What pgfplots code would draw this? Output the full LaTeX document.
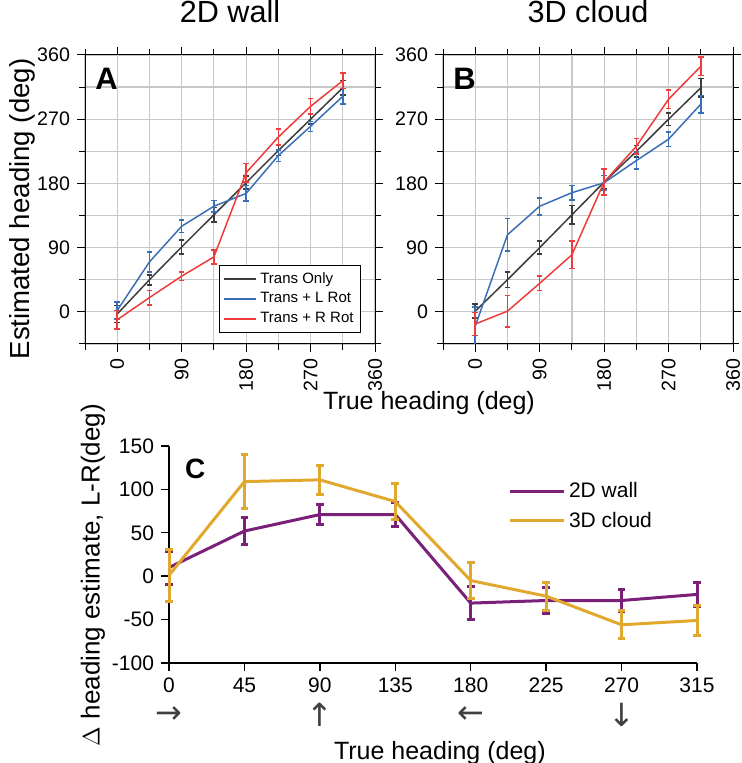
\documentclass[border=0pt]{standalone}
\usepackage{fontspec}
\setmainfont{Liberation Sans}
\newfontfamily\arrfont{DejaVu Sans}
\usepackage{pgfplots}
\pgfplotsset{compat=1.18}

\definecolor{cblk}{RGB}{60,60,60}
\definecolor{cblu}{RGB}{58,111,183}
\definecolor{cred}{RGB}{238,59,59}
\definecolor{cpur}{RGB}{122,32,121}
\definecolor{cgld}{RGB}{224,169,46}

\pgfplotsset{
  hp/.style={
    scale only axis, width=145pt, height=144.5pt,
    xmin=-45, xmax=360, ymin=-45, ymax=360,
    xtick={0,90,180,270,360}, ytick={0,90,180,270,360},
    minor xtick={-45,45,135,225,315}, minor ytick={-45,45,135,225,315},
    grid=both,
    major grid style={draw=black!22, line width=0.6pt},
    minor grid style={draw=black!22, line width=0.6pt},
    tick align=outside, major tick length=4pt, minor tick length=3pt,
    every tick/.style={black, line width=0.5pt},
    axis line style={line width=0.5pt},
    tick label style={font=\fontsize{9.8}{11}\selectfont},
    xticklabel style={rotate=90, anchor=east},
    /pgf/number format/assume math mode=true,
    title style={font=\fontsize{15.3}{17}\selectfont, at={(axis description cs:0.5,1.107)}, anchor=center, yshift=0pt},
  },
  ser/.style={color=#1, line width=0.75pt, mark=none,
    error bars/y dir=both, error bars/y explicit,
    error bars/error bar style={color=#1, line width=0.8pt},
    error bars/error mark options={color=#1, rotate=90, mark size=1.4pt, line width=0.8pt}},
  serc/.style={color=#1, line width=1.5pt, mark=none,
    error bars/y dir=both, error bars/y explicit,
    error bars/error bar style={color=#1, line width=1.5pt},
    error bars/error mark options={color=#1, rotate=90, mark size=1.9pt, line width=1.5pt}},
}

\begin{document}
\begin{tikzpicture}
\useasboundingbox (0,0) rectangle (370.5pt,381.5pt);

% ---------------- Panel A ----------------
\begin{axis}[hp, at={(42.5pt,209.5pt)}, anchor=south west,
  title={2D wall},
  ylabel={Estimated heading (deg)},
  ylabel style={font=\fontsize{13.8}{15}\selectfont, at={(axis description cs:-0.215,0.467)}, anchor=center},
  legend style={at={(0.952,0.038)}, anchor=south east, font=\fontsize{7.5}{8.5}\selectfont,
    draw=black, line width=0.5pt, inner sep=1.5pt, row sep=-0.8pt, fill=white},
  legend cell align=left,
  legend image code/.code={\draw[#1] (0pt,0pt) -- (16pt,0pt);},
]
\addplot[forget plot, ser=cblk] coordinates {
 (0,-3) +- (0,12) (45,45) +- (0,7) (90,91) +- (0,10) (135,136) +- (0,10)
 (180,181) +- (0,9) (225,226) +- (0,7) (270,270) +- (0,7) (315,314) +- (0,10)};
\addplot[forget plot, ser=cblu] coordinates {
 (0,2) +- (0,12) (45,70) +- (0,14) (90,120) +- (0,9) (135,148) +- (0,8)
 (180,166) +- (0,11) (225,219) +- (0,8) (270,260) +- (0,7) (315,302) +- (0,11)};
\addplot[forget plot, ser=cred] coordinates {
 (0,-11) +- (0,13) (45,20) +- (0,10) (90,50) +- (0,6) (135,77) +- (0,10)
 (180,195) +- (0,13) (225,245) +- (0,11) (270,288) +- (0,11) (315,324) +- (0,11)};
\addlegendimage{color=cblk, line width=0.75pt}
\addlegendentry{Trans Only}
\addlegendimage{color=cblu, line width=0.75pt}
\addlegendentry{Trans + L Rot}
\addlegendimage{color=cred, line width=0.75pt}
\addlegendentry{Trans + R Rot}
\node[anchor=north west, inner sep=0pt, font=\bfseries\fontsize{15.5}{16}\selectfont] at (rel axis cs:0.034,0.955) {A};
\end{axis}

% ---------------- Panel B ----------------
\begin{axis}[hp, at={(221.5pt,209.5pt)}, anchor=south west,
  title={3D cloud},
]
\addplot[ser=cblk] coordinates {
 (0,1) +- (0,10) (45,45) +- (0,11) (90,90) +- (0,9) (135,136) +- (0,13)
 (180,182) +- (0,9) (225,225) +- (0,8) (270,270) +- (0,9) (315,314) +- (0,13)};
\addplot[ser=cblu] coordinates {
 (0,-20) +- (0,27) (45,108) +- (0,23) (90,148) +- (0,12) (135,167) +- (0,10)
 (180,181) +- (0,10) (225,212) +- (0,12) (270,242) +- (0,10) (315,291) +- (0,12)};
\addplot[ser=cred] coordinates {
 (0,-17) +- (0,16) (45,1) +- (0,22) (90,40) +- (0,10) (135,80) +- (0,19)
 (180,182) +- (0,18) (225,232) +- (0,11) (270,298) +- (0,13) (315,344) +- (0,13)};
\node[anchor=north west, inner sep=0pt, font=\bfseries\fontsize{15.5}{16}\selectfont] at (rel axis cs:0.034,0.955) {B};
\end{axis}

\node[font=\fontsize{12.5}{14}\selectfont] at (214.5pt,180pt) {True heading (deg)};

% ---------------- Panel C ----------------
\begin{axis}[at={(84.5pt,50pt)}, anchor=south west,
  scale only axis, width=264pt, height=108.5pt,
  xmin=0, xmax=315, ymin=-100, ymax=150,
  axis x line*=bottom, axis y line*=left,
  axis line style={line width=0.7pt, -},
  xtick={0,45,90,135,180,225,270,315},
  ytick={-100,-50,0,50,100,150},
  tick align=outside, major tick length=4pt,
  every tick/.style={black, line width=0.7pt},
  tick label style={font=\fontsize{10.5}{12}\selectfont},
  /pgf/number format/assume math mode=true,
  xlabel={True heading (deg)},
  xlabel style={font=\fontsize{12.5}{14}\selectfont, at={(axis description cs:0.513,-0.415)}, anchor=center},
  ylabel={$\Delta$ heading estimate, L-R(deg)},
  ylabel style={font=\fontsize{13}{15}\selectfont, at={(axis description cs:-0.144,0.405)}, anchor=center},
  clip=false,
  legend style={at={(0.63,0.87)}, anchor=north west, draw=none, fill=none,
    font=\fontsize{10.5}{12}\selectfont, row sep=1.5pt},
  legend cell align=left,
  legend image code/.code={\draw[#1] (0pt,0pt) -- (27pt,0pt);},
]
\addplot[forget plot, serc=cpur] coordinates {
 (0,10) +- (0,19) (45,52) +- (0,16) (90,71) +- (0,12) (135,71) +- (0,14)
 (180,-31) +- (0,19) (225,-28) +- (0,15) (270,-28) +- (0,13) (315,-21) +- (0,14)};
\addplot[forget plot, serc=cgld] coordinates {
 (0,1) +- (0,30) (45,109) +- (0,31) (90,111) +- (0,17) (135,86) +- (0,21)
 (180,-5) +- (0,21) (225,-23) +- (0,16) (270,-56) +- (0,16) (315,-51) +- (0,17)};
\addlegendimage{color=cpur, line width=1.5pt}
\addlegendentry{2D wall}
\addlegendimage{color=cgld, line width=1.5pt}
\addlegendentry{3D cloud}
\node[anchor=north west, inner sep=0pt, font=\bfseries\fontsize{14}{15}\selectfont] at (rel axis cs:0.03,0.94) {C};
\node[font=\arrfont\fontsize{16}{16}\selectfont, inner sep=0pt, text=black!75] at (axis cs:0,-100) [yshift=-26pt] {→};
\node[font=\arrfont\fontsize{16}{16}\selectfont, inner sep=0pt, text=black!75] at (axis cs:90,-100) [yshift=-26pt] {↑};
\node[font=\arrfont\fontsize{16}{16}\selectfont, inner sep=0pt, text=black!75] at (axis cs:180,-100) [yshift=-26pt] {←};
\node[font=\arrfont\fontsize{16}{16}\selectfont, inner sep=0pt, text=black!75] at (axis cs:270,-100) [yshift=-26pt] {↓};
\end{axis}
\end{tikzpicture}
\end{document}
